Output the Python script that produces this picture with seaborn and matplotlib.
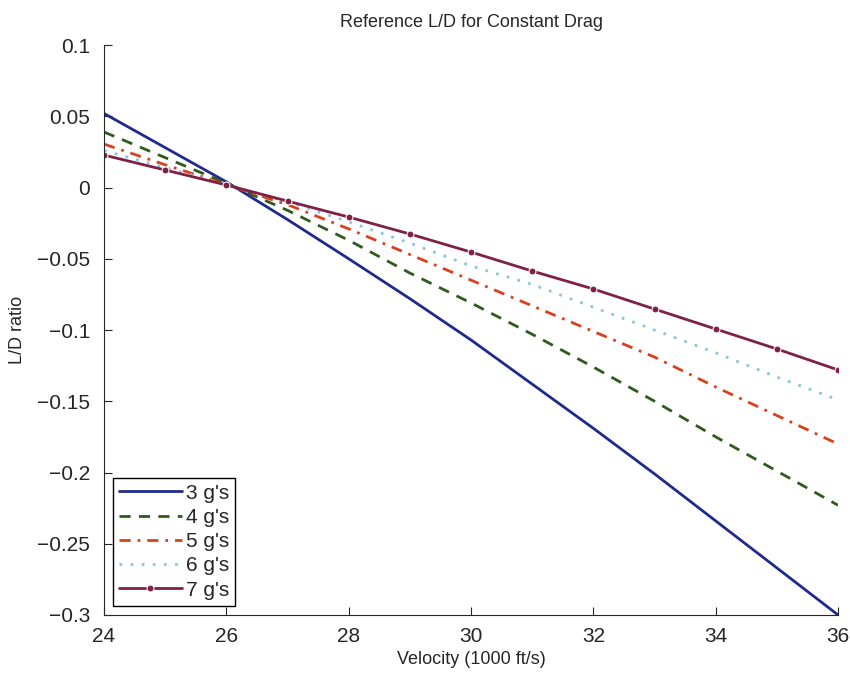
import numpy as np
import pandas as pd
import seaborn as sns
import matplotlib.pyplot as plt
from matplotlib.ticker import FuncFormatter

# values
velocity = [24, 25, 26, 27, 28, 29, 30, 31, 32, 33, 34, 35, 36]
ld_3g = [0.052, 0.028, 0.004, -0.0225, -0.050, -0.078, -0.107, -0.138, -0.169, -0.201, -0.234, -0.267, -0.300]
ld_4g = [0.039, 0.021, 0.003, -0.016, -0.037, -0.060, -0.081, -0.103, -0.126, -0.150, -0.175, -0.199, -0.223]
ld_5g = [0.0305, 0.016, 0.002, -0.012, -0.029, -0.047, -0.065, -0.083, -0.101, -0.119, -0.140, -0.160, -0.180]
ld_6g = [0.026, 0.014, 0.002, -0.010, -0.024, -0.039, -0.055, -0.068, -0.084, -0.100, -0.116, -0.133, -0.149]
ld_7g = [0.0228, 0.0123, 0.0018, -0.0095, -0.0207, -0.0326, -0.0453, -0.0586, -0.0712, -0.0853, -0.0993, -0.1133, -0.128]
labels = ["3 g's", "4 g's", "5 g's", "6 g's", "7 g's"]

sns.set_style("ticks")
plt.rcParams['font.family'] = ['Liberation Sans', 'DejaVu Sans']
plt.rcParams['xtick.direction'] = 'in'
plt.rcParams['ytick.direction'] = 'in'

fig = plt.figure(figsize=(8.5, 6.73), dpi=100)
ax = fig.add_axes([0.1224, 0.0862, 0.8636, 0.8468])

styles = [
    dict(color='#1f2a8c', linestyle='-'),
    dict(color='#2f5a1e', linestyle=(0, (4, 3))),
    dict(color='#d9401e', linestyle=(0, (4, 2.5, 1, 2.5))),
    dict(color='#8cc4e0', linestyle=(0, (1, 3))),
    dict(color='#7f2045', linestyle='-', marker='o', markersize=5),
]

for lab, vals, st in zip(labels, [ld_3g, ld_4g, ld_5g, ld_6g, ld_7g], styles):
    df = pd.DataFrame({'Velocity': velocity, 'LD': vals})
    sns.lineplot(x='Velocity', y='LD', data=df, label=lab, linewidth=2, ax=ax, **st)


def fmt(v, p):
    if abs(v) < 1e-9:
        return '0'
    return f"{round(v, 3):g}".replace('-', '\u2212')


ax.set_xlim(24, 36)
ax.set_ylim(-0.3, 0.1)
ax.set_xticks(np.arange(24, 37, 2))
ax.set_yticks(np.arange(-0.3, 0.101, 0.05))
ax.yaxis.set_major_formatter(FuncFormatter(fmt))
ax.tick_params(labelsize=15, length=6, width=0.8)
ax.tick_params(axis='x', pad=9)
ax.tick_params(axis='y', pad=10)
sns.despine(ax=ax)

ax.set_title('Reference L/D for Constant Drag', fontsize=13, pad=13)
ax.set_xlabel('Velocity (1000 ft/s)', fontsize=13, labelpad=3)
ax.set_ylabel('L/D ratio', fontsize=13, labelpad=8)

plt.legend(loc='lower left', bbox_to_anchor=(0.012, 0.016), fontsize=15, handlelength=3.0,
           fancybox=False, edgecolor='black', framealpha=1, borderpad=0.3,
           labelspacing=0.25, handletextpad=0.2, borderaxespad=0)

plt.savefig('out.png', dpi=100)
